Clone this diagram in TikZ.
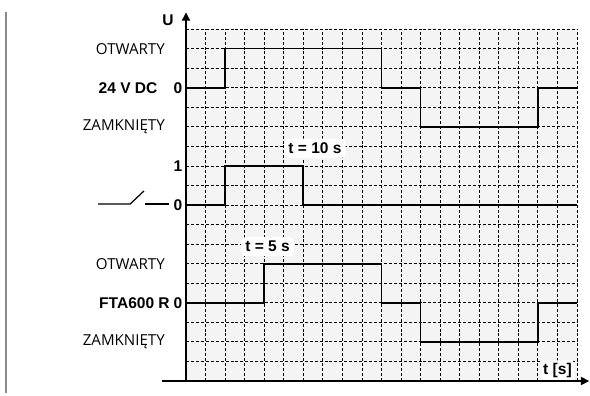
\documentclass[tikz,border=0pt]{standalone}
\usepackage{fontspec}
\setmainfont{Liberation Sans}
\newfontfamily\lightfont{Open Sans}
\usetikzlibrary{arrows.meta}
\definecolor{gridbg}{HTML}{F4F4F4}
\definecolor{sidegray}{HTML}{8A8A8A}
\tikzset{
  gridline/.style={black, line width=0.6pt, dash pattern=on 2.2pt off 1.4pt},
  signal/.style={black, line width=1.25pt, line join=miter},
  axisline/.style={black, line width=0.9pt, -{Triangle[length=6pt,width=6pt]}},
  boldlbl/.style={font=\fontsize{11.3}{12}\selectfont\bfseries, inner sep=1pt},
  statelbl/.style={font=\lightfont\fontsize{11}{12}\selectfont, inner sep=0pt, anchor=east},
  tlbl/.style={font=\fontsize{11.3}{12}\selectfont\bfseries, fill=white, rounded corners=3pt, inner sep=3pt},
  switchline/.style={black, line width=0.9pt}
}
\begin{document}
\begin{tikzpicture}[x=0.5cm,y=0.5cm]
\useasboundingbox (-9.514,-0.767) rectangle (20.665,19.488);
% side bar
\draw[sidegray, line width=1.5pt] (-9.23,18.87) -- (-9.23,-0.61);
% grid
\fill[gridbg] (0,0) rectangle (20,18);
\foreach \i in {1,...,20} \draw[gridline] (\i,0) -- (\i,18);
\foreach \j in {1,...,18} \draw[gridline] (0,\j) -- (20,\j);
% time labels
\node[tlbl] (t10) at (6.6,11.9) {t = 10 s};
\node[tlbl] (t5) at (4.17,6.87) {t = 5 s};
\node[tlbl, inner sep=2pt] (ts) at (19.0,0.55) {t [s]};
% axes
\coordinate (o) at (0,0);
\coordinate (xs) at (-1.23,0);
\coordinate (xe) at (20.62,0);
\coordinate (ye) at (0,18.85);
\draw[axisline] (xs) -- (xe);
\draw[axisline] (o) -- (ye);
\node[boldlbl] (U) at (-0.92,18.45) {U};
% signal 1: 24 V DC
\draw[signal] (0,15) -- (2,15) -- (2,17) -- (10,17) -- (10,15) -- (12,15) -- (12,13) -- (18,13) -- (18,15) -- (20,15);
\node[statelbl] (o1) at (-1.07,17) {OTWARTY};
\node[boldlbl, anchor=east] (dc) at (-1.38,15) {24 V DC};
\node[boldlbl] (z1) at (-0.41,15) {0};
\node[statelbl] (c1) at (-1.07,13) {ZAMKNIĘTY};
% signal 2: switch
\draw[signal] (0,9) -- (2,9) -- (2,11) -- (6,11) -- (6,9) -- (20,9);
\node[boldlbl] (one) at (-0.41,11) {1};
\node[boldlbl] (z2) at (-0.41,9) {0};
\coordinate (sw1) at (-4.5,9.05);
\coordinate (sw2) at (-2.86,9.05);
\coordinate (sw3) at (-2.15,9.72);
\coordinate (sw4) at (-2.08,9.05);
\coordinate (sw5) at (-0.85,9.05);
\draw[switchline] (sw1) -- (sw2) -- (sw3);
\draw[switchline] (sw4) -- (sw5);
% signal 3: FTA600 R
\draw[signal] (0,4) -- (4,4) -- (4,6) -- (10,6) -- (10,4) -- (12,4) -- (12,2) -- (18,2) -- (18,4) -- (20,4);
\node[statelbl] (o3) at (-1.07,6) {OTWARTY};
\node[boldlbl, anchor=east] (fta) at (-0.75,4) {FTA600 R};
\node[boldlbl] (z3) at (-0.41,4) {0};
\node[statelbl] (c3) at (-1.07,2) {ZAMKNIĘTY};
\end{tikzpicture}
\end{document}
